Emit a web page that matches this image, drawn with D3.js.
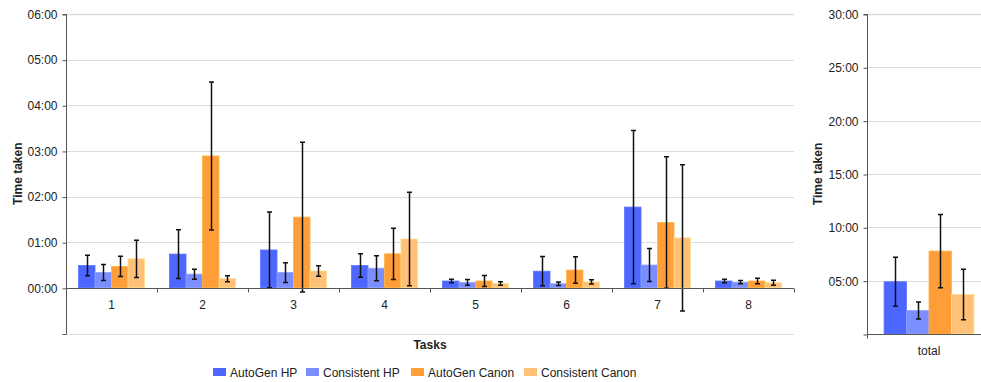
<!DOCTYPE html>
<html>
<head>
<meta charset="utf-8">
<script src="https://cdn.jsdelivr.net/npm/d3@7"></script>
<style>
  body { margin: 0; background: #fff; }
  text { font-family: "Liberation Sans", Arial, sans-serif; fill: #222; }
</style>
</head>
<body>
<svg id="chart" width="981" height="382"></svg>
<script>
// values in minutes
let tasks = ["1", "2", "3", "4", "5", "6", "7", "8"];
let seriesNames = ["AutoGen HP", "Consistent HP", "AutoGen Canon", "Consistent Canon"];
let colors = ["#4d66ff", "#7a8eff", "#ff9d38", "#ffc177"];

let autoGenHP        = [0.49, 0.74, 0.83, 0.49, 0.15, 0.365, 1.77, 0.15];
let consistentHP     = [0.335, 0.30, 0.335, 0.43, 0.12, 0.09, 0.50, 0.125];
let autoGenCanon     = [0.47, 2.89, 1.55, 0.745, 0.15, 0.39, 1.43, 0.15];
let consistentCanon  = [0.635, 0.20, 0.37, 1.07, 0.095, 0.13, 1.095, 0.11];

let autoGenHPErr       = [0.225, 0.535, 0.83, 0.255, 0.04, 0.32, 1.68, 0.04];
let consistentHPErr    = [0.175, 0.11, 0.215, 0.275, 0.065, 0.04, 0.36, 0.035];
let autoGenCanonErr    = [0.22, 1.62, 1.64, 0.56, 0.12, 0.29, 1.44, 0.058];
let consistentCanonErr = [0.41, 0.065, 0.115, 1.025, 0.04, 0.048, 1.6, 0.055];

let totalMeans = [4.9, 2.2, 7.77, 3.7];
let totalErr   = [2.3, 0.8, 3.43, 2.37];

let leftTicks  = [-1, 0, 1, 2, 3, 4, 5, 6];
let rightTicks = [0, 5, 10, 15, 20, 25, 30];

let means = [autoGenHP, consistentHP, autoGenCanon, consistentCanon];
let errs = [autoGenHPErr, consistentHPErr, autoGenCanonErr, consistentCanonErr];

function fmt(v) {
    if (v < 0) return "";
    let m = Math.floor(v), s = Math.round((v - m) * 60);
    return String(m).padStart(2, "0") + ":" + String(s).padStart(2, "0");
}

let svg = d3.select("#chart");

function drawPanel(opts) {
    let g = svg.append("g");
    let y = d3.scaleLinear().domain(opts.yDomain).range([opts.bottom, 14]);
    let x0 = d3.scaleBand().domain(opts.cats).range([opts.left, opts.right]);
    let x1 = d3.scaleBand().domain(seriesNames).range([0, x0.bandwidth()]).paddingOuter(0.76);

    // gridlines
    g.selectAll(".grid")
        .data(opts.ticks)
        .enter()
        .append("line")
        .attr("x1", opts.left)
        .attr("x2", opts.gridRight)
        .attr("y1", d => Math.round(y(d)) + 0.5)
        .attr("y2", d => Math.round(y(d)) + 0.5)
        .attr("stroke", "#dcdcdc")
        .attr("stroke-width", d => d == opts.yDomain[1] ? 1.5 : 1);

    // y axis
    let yAxis = d3.axisLeft(y).tickValues(opts.ticks).tickSize(4).tickPadding(5)
        .tickFormat(d => opts.hideTick(d) ? "" : fmt(d));
    let ya = g.append("g")
        .attr("transform", "translate(" + (opts.left + 0.5) + ",0.5)")
        .call(yAxis);
    ya.select(".domain").attr("stroke", "#555").attr("d", "M-4," + y(opts.yDomain[1]) + "H0V" + opts.bottom);
    ya.selectAll(".tick line").attr("stroke", "#555");
    ya.selectAll(".tick text").attr("font-size", "12px").attr("fill", "#222")
        .style("font-family", "'Liberation Sans', Arial, sans-serif");

    // bars
    let groups = g.selectAll(".grp")
        .data(opts.cats.map((c, i) => ({ cat: c, i: i })))
        .enter()
        .append("g")
        .attr("transform", d => "translate(" + x0(d.cat) + ",0)");

    groups.selectAll("rect")
        .data(d => seriesNames.map((s, k) => ({ s: s, k: k, v: opts.vals[k][d.i], e: opts.errs[k][d.i] })))
        .enter()
        .append("rect")
        .attr("x", d => x1(d.s))
        .attr("y", d => y(d.v))
        .attr("width", x1.bandwidth())
        .attr("height", d => y(opts.base) - y(d.v))
        .attr("fill", d => colors[d.k])
        .attr("stroke", d => d3.color(colors[d.k]).brighter(0.4))
        .attr("stroke-width", 0.8);

    // x axis line
    let xa = g.append("g");
    xa.append("line")
        .attr("x1", opts.left).attr("x2", opts.gridRight)
        .attr("y1", Math.round(y(opts.base)) + 0.5).attr("y2", Math.round(y(opts.base)) + 0.5)
        .attr("stroke", "#555");
    let bounds = opts.cats.map(c => x0(c)).concat([x0.range()[1]]).filter(v => v <= opts.gridRight);
    xa.selectAll(".xt")
        .data(bounds)
        .enter()
        .append("line")
        .attr("x1", d => Math.round(d) + 0.5).attr("x2", d => Math.round(d) + 0.5)
        .attr("y1", Math.round(y(opts.base)) + 0.5).attr("y2", Math.round(y(opts.base)) + 4.5)
        .attr("stroke", "#555");
    xa.selectAll(".xl")
        .data(opts.cats)
        .enter()
        .append("text")
        .attr("x", d => x0(d) + x0.bandwidth() / 2)
        .attr("y", opts.labelY)
        .attr("text-anchor", "middle")
        .attr("font-size", "12px")
        .text(d => d);

    // error bars
    groups.selectAll(".err")
        .data(d => seriesNames.map((s, k) => ({ s: s, v: opts.vals[k][d.i], e: opts.errs[k][d.i] })))
        .enter()
        .append("path")
        .attr("d", d => {
            let cx = Math.round(x1(d.s) + x1.bandwidth() / 2) + 0.5;
            let t = y(d.v + d.e), b = y(d.v - d.e);
            return "M" + (cx - 2.5) + "," + t + "H" + (cx + 2.5) + "M" + cx + "," + t + "V" + b +
                "M" + (cx - 2.5) + "," + b + "H" + (cx + 2.5);
        })
        .attr("stroke", "#111")
        .attr("stroke-width", 1.5)
        .attr("fill", "none");

    // y title
    g.append("text")
        .attr("transform", "translate(" + opts.titleX + "," + ((14 + opts.bottom) / 2) + ") rotate(-90)")
        .attr("text-anchor", "middle")
        .attr("font-size", "12px")
        .attr("font-weight", "bold")
        .text("Time taken");
}

drawPanel({
    cats: tasks, vals: means, errs: errs,
    yDomain: [-1, 6], ticks: leftTicks, base: 0, bottom: 333.5,
    left: 66, right: 794, gridRight: 794, labelY: 309, titleX: 22,
    hideTick: d => d < 0
});

drawPanel({
    cats: ["total"], vals: totalMeans.map(v => [v]), errs: totalErr.map(v => [v]),
    yDomain: [0, 30], ticks: rightTicks, base: 0, bottom: 334,
    left: 867, right: 991, gridRight: 981, labelY: 355, titleX: 822,
    hideTick: d => d <= 0
});

svg.append("text")
    .attr("x", 430).attr("y", 349)
    .attr("text-anchor", "middle")
    .attr("font-size", "12px").attr("font-weight", "bold")
    .text("Tasks");

// legend
let legendX = [213, 306, 411, 524];
let legend = svg.selectAll(".leg")
    .data(seriesNames)
    .enter()
    .append("g")
    .attr("transform", (d, i) => "translate(" + legendX[i] + ",368)");
legend.append("rect")
    .attr("width", 13).attr("height", 8)
    .attr("fill", (d, i) => colors[i]);
legend.append("text")
    .attr("x", 17).attr("y", 8.5)
    .attr("font-size", "12px")
    .text(d => d);
</script>
</body>
</html>
